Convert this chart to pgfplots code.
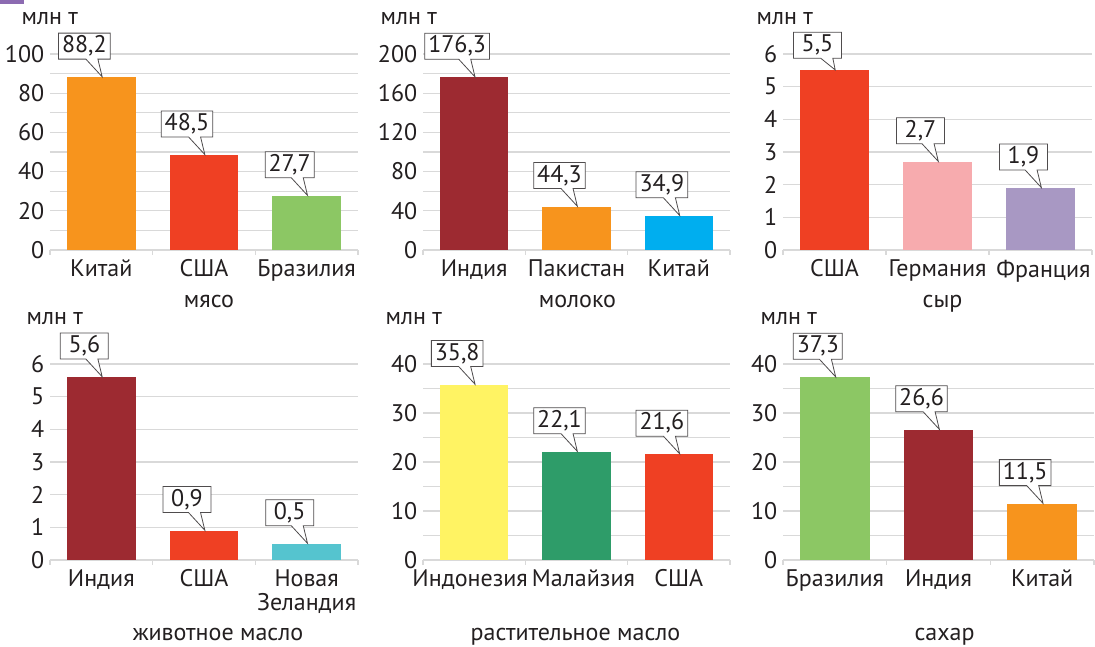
\documentclass[border=0pt]{standalone}
\usepackage{fontspec}
\setmainfont{PT Sans}
\usepackage{pgfplots}
\pgfplotsset{compat=1.18}
\usetikzlibrary{shapes.callouts}
\definecolor{corange}{HTML}{F7941D}
\definecolor{cred}{HTML}{EF4023}
\definecolor{clgreen}{HTML}{8CC764}
\definecolor{cdred}{HTML}{9D2A31}
\definecolor{cblue}{HTML}{00AEEF}
\definecolor{cpink}{HTML}{F7ABAE}
\definecolor{clav}{HTML}{A898C3}
\definecolor{cteal}{HTML}{55C4CF}
\definecolor{cyellow}{HTML}{FFF363}
\definecolor{cdgreen}{HTML}{2E9C69}
\definecolor{gridc}{HTML}{D9D9D9}
\definecolor{textc}{HTML}{231F20}
\definecolor{markc}{HTML}{8C6BB1}
\newcommand{\fs}{\fontsize{24}{24}\selectfont}
\newcommand{\sh}[2]{\makebox[0pt]{\hspace*{#1pt}\hspace*{#1pt}#2}}
\pgfplotsset{
  panel/.style={
    scale only axis, height=196pt,
    anchor=south west,
    xmin=-0.5, xmax=2.5, ymin=0,
    axis x line*=bottom, axis y line*=left,
    y axis line style={draw=none},
    x axis line style={draw=gridc, line width=1.3pt, -},
    xtick={0,1,2}, major x tick style={draw=none},
    minor xtick={-0.5,0.5,1.5,2.5},
    minor x tick style={draw=gridc, line width=1.3pt},
    minor tick length=5pt, tick align=outside,
    ytick style={draw=none},
    ymajorgrids,
    grid style={draw=gridc, line width=1.3pt},
    ticklabel style={font=\fs, text=textc},
    /pgf/number format/assume math mode=true,
    yticklabel style={xshift=2pt},
    xticklabel style={align=center, anchor=north, yshift=-2pt},
    ybar, bar width=0.67, bar shift=0pt,
    point meta=explicit symbolic,
    nodes near coords,
    every node near coord/.style={shape=rectangle callout, draw=textc!80, fill=white,
      line width=0.8pt, text=textc, font=\fs, minimum width=48pt, minimum height=26pt,
      inner xsep=3.5pt, inner ysep=0pt, anchor=center, xshift=-17pt, yshift=31pt,
      callout relative pointer={(10.3pt,-17.7pt)}, callout pointer width=12pt},
    xlabel style={at={(axis description cs:0.5,0)}, anchor=base, font=\fs, text=textc},
    clip=false,
  },
  minorg/.style={minor y tick num=1, yminorgrids, minor y tick style={draw=none}},
}
\newcommand{\bb}[5][]{\addplot[fill=#5, draw=none,
  every node near coord/.append style={#1}]
  coordinates {(#2,#3) [#4]};}
\newcommand{\unit}[2]{\node[anchor=base west, font=\fs, text=textc] at ([xshift=#1pt, yshift=#2pt]rel axis cs:0,1) {млн т};}
\begin{document}
\begin{tikzpicture}
\fill[markc] (0pt,647pt) rectangle (24pt,643pt);
% meat
\begin{axis}[panel, minorg, at={(50pt,397pt)}, width=308pt, ymax=100, ytick={0,20,...,100},
  xticklabels={Китай,США,Бразилия}, xlabel={мясо}, xlabel style={yshift=-58pt, xshift=5pt}]
\bb{0}{88.2}{88,2}{corange}
\bb{1}{48.5}{48,5}{cred}
\bb{2}{27.7}{27,7}{clgreen}
\unit{-32}{29}
\end{axis}
% milk
\begin{axis}[panel, minorg, at={(423pt,397pt)}, width=307pt, ymax=200, ytick={0,40,...,200},
  xticklabels={Индия,Пакистан,Китай}, xlabel={молоко}, xlabel style={yshift=-58pt, xshift=1pt}]
\bb{0}{176.3}{176,3}{cdred}
\bb{1}{44.3}{44,3}{corange}
\bb{2}{34.9}{34,9}{cblue}
\unit{-46}{29}
\end{axis}
% cheese
\begin{axis}[panel, at={(783pt,397pt)}, width=309pt, ymax=6, ytick={0,1,...,6},
  xticklabels={США,Германия,\sh{3}{Франция}}, xlabel={сыр}, xlabel style={yshift=-58pt, xshift=5pt}]
\bb[{yshift=-6pt, callout relative pointer={(8.35pt,-11.6pt)}}]{0}{5.5}{5,5}{cred}
\bb{1}{2.7}{2,7}{cpink}
\bb{2}{1.9}{1,9}{clav}
\unit{-30}{29}
\end{axis}
% butter
\begin{axis}[panel, at={(50pt,87pt)}, width=308pt, ymax=6, ytick={0,1,...,6},
  xticklabels={Индия,США,Новая\\Зеландия}, xlabel={животное масло}, xlabel style={yshift=-81pt, xshift=14pt}]
\bb{0}{5.6}{5,6}{cdred}
\bb{1}{0.9}{0,9}{cred}
\bb{2}{0.5}{0,5}{cteal}
\unit{-27}{39}
\end{axis}
% vegetable oil
\begin{axis}[panel, minorg, at={(423pt,87pt)}, width=307pt, ymax=40, ytick={0,10,...,40},
  xticklabels={\sh{-4}{Индонезия},\sh{7}{Малайзия},США}, xlabel={растительное масло}, xlabel style={yshift=-81pt, xshift=-1pt}]
\bb{0}{35.8}{35,8}{cyellow}
\bb{1}{22.1}{22,1}{cdgreen}
\bb{2}{21.6}{21,6}{cred}
\unit{-41}{39}
\end{axis}
% sugar
\begin{axis}[panel, minorg, at={(783pt,87pt)}, width=311pt, ymax=40, ytick={0,10,...,40},
  xticklabels={Бразилия,Индия,Китай}, xlabel={сахар}, xlabel style={yshift=-81pt, xshift=6pt}]
\bb{0}{37.3}{37,3}{clgreen}
\bb{1}{26.6}{26,6}{cdred}
\bb{2}{11.5}{11,5}{corange}
\unit{-26}{39}
\end{axis}
\pgfresetboundingbox
\useasboundingbox (0pt,0pt) rectangle (1095pt,647pt);
\end{tikzpicture}
\end{document}
